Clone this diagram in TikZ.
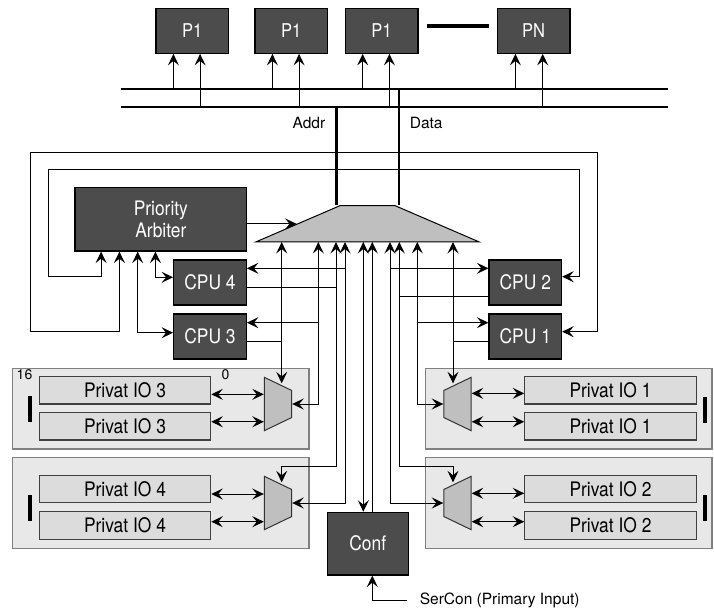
\documentclass[tikz,border=0pt]{standalone}
\usepackage{fontspec}
\setmainfont{TeX Gyre Heros}
\newfontfamily\narrowfont[FakeStretch=0.87]{TeX Gyre Heros}
\usepackage{xcolor}
\usetikzlibrary{arrows.meta,positioning,shapes.geometric,calc}
\definecolor{boxdark}{HTML}{4C4C4C}
\definecolor{muxgray}{HTML}{BFBFBF}
\definecolor{panelgray}{HTML}{E8E8E8}
\definecolor{iogray}{HTML}{DCDCDC}

\begin{document}
\begin{tikzpicture}[
  x=1pt, y=-1pt,
  proc/.style={rectangle, draw=black, line width=1.2pt, fill=boxdark, text=white,
               minimum width=72.6pt, minimum height=45pt, inner sep=0pt,
               font=\narrowfont\fontsize{20}{21.7}\selectfont},
  pbox/.style={proc, font=\narrowfont\fontsize{19}{21}\selectfont},
  arbbox/.style={proc, minimum width=171.7pt, minimum height=63.3pt, align=center},
  confbox/.style={proc, minimum width=81pt, minimum height=62.7pt},
  panel/.style={rectangle, draw=black!50, line width=1.2pt, fill=panelgray,
                minimum height=80.7pt, inner sep=0pt},
  iobox/.style={rectangle, draw=black!75, line width=1.2pt, fill=iogray,
                minimum width=171.4pt, minimum height=27.3pt, inner sep=0pt,
                font=\narrowfont\fontsize{20}{20}\selectfont},
  bar/.style={rectangle, fill=black, minimum width=4.6pt, minimum height=26pt, inner sep=0pt},
  xbar/.style={trapezium, trapezium angle=33.3, trapezium stretches=true,
               minimum width=223.6pt, minimum height=36.3pt, inner sep=1pt,
               draw=black, line width=1pt, fill=muxgray},
  smux/.style={trapezium, trapezium angle=64, trapezium stretches=true,
               minimum width=53.4pt, minimum height=27.4pt, inner sep=1pt,
               draw=black!80, line width=1pt, fill=muxgray},
  lbl/.style={font=\fontsize{15.5}{18}\selectfont},
  bus/.style={line width=2.7pt},
  arr/.style={-{Stealth[length=11.5pt, width=11pt, inset=4.5pt]}, line width=1pt},
  dbl/.style={{Stealth[length=11.5pt, width=11pt, inset=4.5pt]}-{Stealth[length=11.5pt, width=11pt, inset=4.5pt]}, line width=1pt},
  every path/.style={line width=1pt}
]
\useasboundingbox (0,0) rectangle (714,612);

% processors and bus
\node[pbox] (p1) at (192.3,30.8) {P1};
\node[pbox] (p2) at (291.3,30.8) {P1};
\node[pbox] (p3) at (381.6,30.8) {P1};
\node[pbox] (pn) at (533.6,30.8) {PN};
\draw[line width=4.3pt] ([xshift=8.5pt, yshift=5pt]p3.east) -- ([xshift=-8pt, yshift=5pt]pn.west);

\coordinate (bt-w) at (120.7,89);  \coordinate (bt-e) at (668.3,89);
\coordinate (bb-w) at (120.7,107); \coordinate (bb-e) at (668.3,107);
\draw[bus] (bt-w) -- (bt-e);
\draw[bus] (bb-w) -- (bb-e);

\draw[arr] ([xshift=18pt]p1.south west |- bt-w) -- ([xshift=18pt]p1.south west);
\draw[arr] ([xshift=44.7pt]p1.south west |- bb-w) -- ([xshift=44.7pt]p1.south west);
\draw[arr] ([xshift=18pt]p2.south west |- bt-w) -- ([xshift=18pt]p2.south west);
\draw[arr] ([xshift=44.7pt]p2.south west |- bb-w) -- ([xshift=44.7pt]p2.south west);
\draw[arr] ([xshift=18pt]p3.south west |- bt-w) -- ([xshift=18pt]p3.south west);
\draw[arr] ([xshift=44.7pt]p3.south west |- bb-w) -- ([xshift=44.7pt]p3.south west);
\draw[arr] ([xshift=18.7pt]pn.south west |- bt-w) -- ([xshift=18.7pt]pn.south west);
\draw[arr] ([xshift=46pt]pn.south west |- bb-w) -- ([xshift=46pt]pn.south west);

% crossbar, arbiter, cpus
\node[xbar] (xbar) at (367.5,223.85) {};
\node[arbbox] (arbiter) at (160.85,219.35) {Priority\\Arbiter};
\node[proc] (cpu4) at (210,282.5) {CPU 4};
\node[proc] (cpu3) at (210,336.5) {CPU 3};
\node[proc] (cpu2) at (525.3,282.5) {CPU 2};
\node[proc] (cpu1) at (525.3,336.5) {CPU 1};

\coordinate (addr) at (336.7,107);
\coordinate (data) at (399,89);
\draw[bus] (addr) -- (addr |- xbar.top side);
\draw[bus] (data) -- (data |- xbar.top side);
\node[lbl, anchor=east] (addrlbl) at (329,123) {Addr};
\node[lbl, anchor=west] (datalbl) at (406,123) {Data};

\draw[arr] (arbiter.east |- xbar.left side) -- (xbar.left side);
\draw[dbl] ([xshift=45pt]arbiter.south west) |- (30,331.7) |- (597.3,152.3) |- ([yshift=4.8pt]cpu1.east);
\draw[dbl] ([xshift=26.7pt]arbiter.south west) |- (48.3,276.7) |- (579,170) |- ([yshift=5.8pt]cpu2.east);
\draw[dbl] ([xshift=63.3pt]arbiter.south west) |- ([yshift=3.8pt]cpu3.west);
\draw[dbl] ([xshift=81pt]arbiter.south west) |- ([yshift=5.2pt]cpu4.west);

% private io
\node[panel, minimum width=296.7pt] (pan3) at (160.65,408.65) {};
\node[panel, minimum width=296.7pt, minimum height=90.6pt] (pan4) at (160.65,503) {};
\node[panel, minimum width=286.3pt] (pan1) at (568.85,408.65) {};
\node[panel, minimum width=286.3pt, minimum height=90.6pt] (pan2) at (568.85,503) {};

\node[iobox] (io3a) at (125,390.35) {Privat IO 3};
\node[iobox] (io3b) at (125,426.35) {Privat IO 3};
\node[iobox] (io4a) at (125,489.2) {Privat IO 4};
\node[iobox] (io4b) at (125,525.5) {Privat IO 4};
\node[iobox] (io1a) at (610.5,390.35) {Privat IO 1};
\node[iobox] (io1b) at (610.5,426.35) {Privat IO 1};
\node[iobox] (io2a) at (610.5,489.2) {Privat IO 2};
\node[iobox] (io2b) at (610.5,525.5) {Privat IO 2};

\node[bar] (bar3) at (30,408.85) {};
\node[bar] (bar4) at (30,507.5) {};
\node[bar] (bar1) at (705,409.5) {};
\node[bar] (bar2) at (705,507.5) {};
\node[font=\fontsize{14}{16}\selectfont] (bit16) at (24.5,374.7) {16};
\node[font=\fontsize{14}{16}\selectfont] (bit0) at (225.5,374.7) {0};

\node[smux, rotate=-90] (mux3) at (278,404) {};
\node[smux, rotate=-90] (mux4) at (278,503) {};
\node[smux, rotate=90] (mux1) at (457.5,404) {};
\node[smux, rotate=90] (mux2) at (457.5,503) {};

\draw[dbl] ([yshift=-4pt]io3a.east) -- ([yshift=-4pt]io3a.east -| mux3.bottom side);
\draw[dbl] ([yshift=4.6pt]io3b.east) -- ([yshift=4.6pt]io3b.east -| mux3.bottom side);
\draw[dbl] ([yshift=-4.8pt]io4a.east) -- ([yshift=-4.8pt]io4a.east -| mux4.bottom side);
\draw[dbl] ([yshift=3.8pt]io4b.east) -- ([yshift=3.8pt]io4b.east -| mux4.bottom side);
\draw[dbl] ([yshift=-3pt]io1a.west) -- ([yshift=-3pt]io1a.west -| mux1.bottom side);
\draw[dbl] ([yshift=4.6pt]io1b.west) -- ([yshift=4.6pt]io1b.west -| mux1.bottom side);
\draw[dbl] ([yshift=-4.1pt]io2a.west) -- ([yshift=-4.1pt]io2a.west -| mux2.bottom side);
\draw[dbl] ([yshift=3.8pt]io2b.west) -- ([yshift=3.8pt]io2b.west -| mux2.bottom side);

% configuration
\node[confbox] (conf) at (367.8,543.65) {Conf};
\node[lbl, anchor=west] (sercon) at (416,600.7) {SerCon (Primary Input)};

% lanes into the crossbar
\coordinate (l1) at (281.7,242);
\coordinate (l2) at (318.3,242);
\coordinate (l3) at (336,242);
\coordinate (l4) at (345,242);
\coordinate (l5) at (363.3,242);
\coordinate (l6) at (372.3,242);
\coordinate (l7) at (390,242);
\coordinate (l8) at (399.3,242);
\coordinate (l9) at (417.3,242);
\coordinate (l10) at (453,242);

\draw ([yshift=-4.5pt]cpu3.east) -- ([yshift=-4.5pt]cpu3.east -| l1);
\draw[arr] ([yshift=13.8pt]cpu3.east -| l2) -- ([yshift=13.8pt]cpu3.east);
\draw ([yshift=-4.5pt]cpu4.east) -- ([yshift=-4.5pt]cpu4.east -| l3);
\draw[arr] ([yshift=14.2pt]cpu4.east -| l4) -- ([yshift=14.2pt]cpu4.east);
\draw[arr] ([yshift=14.2pt]cpu2.west -| l7) -- ([yshift=14.2pt]cpu2.west);
\draw ([yshift=-13.5pt]cpu2.west) -- ([yshift=-13.5pt]cpu2.west -| l8);
\draw[arr] ([yshift=13.8pt]cpu1.west -| l9) -- ([yshift=13.8pt]cpu1.west);
\draw ([yshift=-4.5pt]cpu1.west) -- ([yshift=-4.5pt]cpu1.west -| l10);

\draw[dbl] ([xshift=3.7pt]mux3.left side) -- (l1);
\draw[dbl] (mux3.top side) -| (l2);
\draw[dbl] ([xshift=3.7pt]mux4.left side) -- ++(0,-16.3) -| (l3);
\draw[dbl] (mux4.top side) -| (l4);
\draw[dbl] (l5 |- conf.north) -- (l5);
\draw[arr] (l6 |- conf.north) -- (l6);
\draw[dbl] (mux2.top side) -| (l7);
\draw[dbl] ([xshift=-4.5pt]mux2.right side) -- ++(0,-16.3) -| (l8);
\draw[dbl] (mux1.top side) -| (l9);
\draw[dbl] ([xshift=-4.5pt]mux1.right side) -- (l10);

\draw[arr] ([xshift=-9.3pt]sercon.west) -| (l6 |- conf.south);
\end{tikzpicture}
\end{document}
